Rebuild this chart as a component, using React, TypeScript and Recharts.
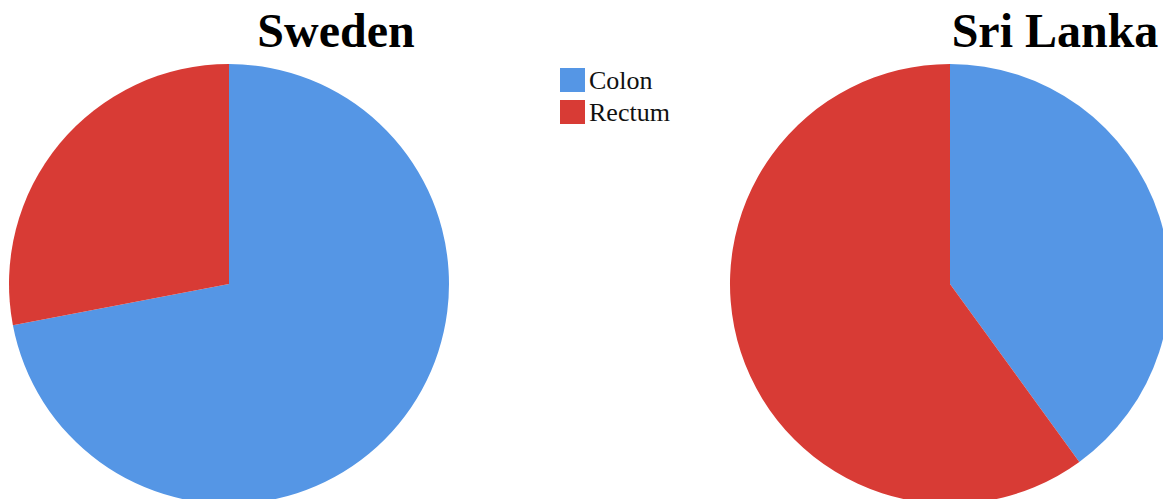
import React from "react"
import { PieChart, Pie, Cell } from "recharts"

const CATEGORIES = ["Colon", "Rectum"]
const COUNTRIES = ["Sweden", "Sri Lanka"]
const SWEDEN_VALUES = [72, 28]
const SRI_LANKA_VALUES = [40, 60]
const COLORS = ["#5596e5", "#d83b35"]

const W = 1163
const H = 499

const toData = (values: number[]) => CATEGORIES.map((name, i) => ({ name, value: values[i] }))

export default function App() {
  const sweden = toData(SWEDEN_VALUES)
  const sriLanka = toData(SRI_LANKA_VALUES)
  const font = '"Liberation Serif", "Times New Roman", serif'

  return (
    <div style={{ position: "fixed", left: 0, top: 0, width: W, height: H, background: "#fff" }}>
      <PieChart width={W} height={H} margin={{ top: 0, right: 0, bottom: 0, left: 0 }}>
        <Pie
          data={sweden}
          dataKey="value"
          cx={229}
          cy={284}
          outerRadius={220}
          startAngle={90}
          endAngle={-270}
          stroke="none"
          isAnimationActive={false}
        >
          {sweden.map((d, i) => (
            <Cell key={`sw-${d.name}`} fill={COLORS[i]} />
          ))}
        </Pie>
        <Pie
          data={sriLanka}
          dataKey="value"
          cx={950}
          cy={284}
          outerRadius={220}
          startAngle={90}
          endAngle={-270}
          stroke="none"
          isAnimationActive={false}
        >
          {sriLanka.map((d, i) => (
            <Cell key={`sl-${d.name}`} fill={COLORS[i]} />
          ))}
        </Pie>
      </PieChart>

      {/* titles + legend drawn on top */}
      <svg width={W} height={H} style={{ position: "absolute", left: 0, top: 0, pointerEvents: "none" }}>
        <text x={336} y={47} textAnchor="middle" fontFamily={font} fontWeight="bold" fontSize={48} fill="#000">
          {COUNTRIES[0]}
        </text>
        <text x={1055} y={47} textAnchor="middle" fontFamily={font} fontWeight="bold" fontSize={48} fill="#000">
          {COUNTRIES[1]}
        </text>
        {CATEGORIES.map((name, i) => (
          <g key={name}>
            <rect x={560} y={68 + i * 32} width={25} height={24} fill={COLORS[i]} />
            <text x={589} y={89 + i * 32} fontFamily={font} fontSize={26} fill="#111">
              {name}
            </text>
          </g>
        ))}
      </svg>
    </div>
  )
}
